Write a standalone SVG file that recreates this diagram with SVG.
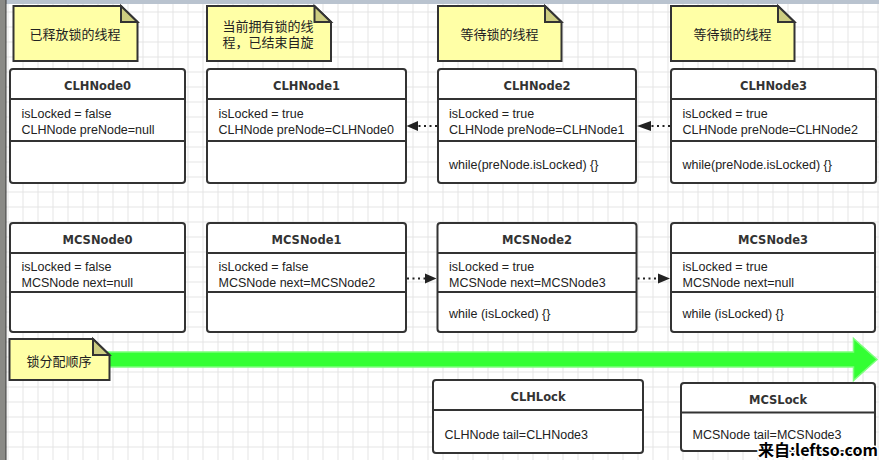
<svg xmlns="http://www.w3.org/2000/svg" width="879" height="460" viewBox="0 0 879 460">
<defs>
<pattern id="grid" x="7.5" y="11.5" width="15" height="15" patternUnits="userSpaceOnUse">
<path d="M0,0.5 H15 M0.5,0 V15" fill="none" stroke="#e4e4e4" stroke-width="1"/>
</pattern>
<marker id="ah" markerUnits="userSpaceOnUse" markerWidth="14" markerHeight="12" refX="12" refY="5" orient="auto">
<path d="M0,0 L12,5 L0,10 Z" fill="#222"/>
</marker>
<style>
.box{fill:#fff;stroke:#333;stroke-width:2}
.div{stroke:#333;stroke-width:2}
.note{fill:#ffffa6;stroke:#333;stroke-width:2}
.fold{fill:#cdcd80;stroke:#333;stroke-width:2;stroke-linejoin:miter}
.t{font-family:"Liberation Sans",Arial,sans-serif;font-size:12.5px;fill:#222}
.h{font-family:"DejaVu Sans","Liberation Sans",sans-serif;font-size:11.5px;font-weight:bold;fill:#333;text-anchor:middle}
.cn{font-family:"Liberation Sans","Noto Sans CJK SC",sans-serif;font-size:13px;fill:#222;text-anchor:middle}
.dot{stroke:#222;stroke-width:2;stroke-dasharray:2,3.5;fill:none}
</style>
</defs>
<rect width="879" height="460" fill="#fff"/>
<rect width="879" height="460" fill="url(#grid)"/>
<rect x="0" y="0" width="879" height="4" fill="#b9c3cf"/>
<rect x="0" y="0" width="6" height="460" fill="#8a8a86"/>
<line x1="6" y1="0" x2="6" y2="460" stroke="#3a3a3a" stroke-width="1"/>

<g id="note0">
<path class="note" d="M13.5,6 H121 L137.5,22 V61 H13.5 Z"/>
<path class="fold" d="M121,6 V22 H137.5 Z"/>
<text class="cn" x="75" y="38.5">已释放锁的线程</text>
</g>
<g id="note1">
<path class="note" d="M207,6 H314.5 L331,22 V61 H207 Z"/>
<path class="fold" d="M314.5,6 V22 H331 Z"/>
<text class="cn" x="268" y="30.5">当前拥有锁的线</text>
<text class="cn" x="268" y="47">程，已结束自旋</text>
</g>
<g id="note2">
<path class="note" d="M438,6 H545 L561.5,22 V61 H438 Z"/>
<path class="fold" d="M545,6 V22 H561.5 Z"/>
<text class="cn" x="499.5" y="38.5">等待锁的线程</text>
</g>
<g id="note3">
<path class="note" d="M671,6 H778 L794.5,22 V61 H671 Z"/>
<path class="fold" d="M778,6 V22 H794.5 Z"/>
<text class="cn" x="732.5" y="38.5">等待锁的线程</text>
</g>

<g id="CLHNode0">
<rect class="box" x="10" y="69" width="175" height="114" rx="3"/>
<line class="div" x1="10" y1="99" x2="185" y2="99"/>
<line class="div" x1="10" y1="141" x2="185" y2="141"/>
<text class="h" x="97.5" y="90">CLHNode0</text>
<text class="t" x="21.5" y="118">isLocked = false</text>
<text class="t" x="21.5" y="134">CLHNode preNode=null</text>
</g>
<g id="CLHNode1">
<rect class="box" x="207" y="69" width="199" height="114" rx="3"/>
<line class="div" x1="207" y1="99" x2="406" y2="99"/>
<line class="div" x1="207" y1="141" x2="406" y2="141"/>
<text class="h" x="306.5" y="90">CLHNode1</text>
<text class="t" x="218.5" y="118">isLocked = true</text>
<text class="t" x="218.5" y="134">CLHNode preNode=CLHNode0</text>
</g>
<g id="CLHNode2">
<rect class="box" x="438" y="69" width="198" height="114" rx="3"/>
<line class="div" x1="438" y1="99" x2="636" y2="99"/>
<line class="div" x1="438" y1="141" x2="636" y2="141"/>
<text class="h" x="537" y="90">CLHNode2</text>
<text class="t" x="449" y="118">isLocked = true</text>
<text class="t" x="449" y="134">CLHNode preNode=CLHNode1</text>
<text class="t" x="449" y="168.5">while(preNode.isLocked) {}</text>
</g>
<g id="CLHNode3">
<rect class="box" x="671" y="69" width="205" height="114" rx="3"/>
<line class="div" x1="671" y1="99" x2="876" y2="99"/>
<line class="div" x1="671" y1="141" x2="876" y2="141"/>
<text class="h" x="773.5" y="90">CLHNode3</text>
<text class="t" x="682.5" y="118">isLocked = true</text>
<text class="t" x="682.5" y="134">CLHNode preNode=CLHNode2</text>
<text class="t" x="682.5" y="168.5">while(preNode.isLocked) {}</text>
</g>

<g id="MCSNode0">
<rect class="box" x="10" y="223" width="175" height="109" rx="3"/>
<line class="div" x1="10" y1="253" x2="185" y2="253"/>
<line class="div" x1="10" y1="292" x2="185" y2="292"/>
<text class="h" x="97.5" y="243.5">MCSNode0</text>
<text class="t" x="21.5" y="270.5">isLocked = false</text>
<text class="t" x="21.5" y="286.5">MCSNode next=null</text>
</g>
<g id="MCSNode1">
<rect class="box" x="207" y="223" width="199" height="109" rx="3"/>
<line class="div" x1="207" y1="253" x2="406" y2="253"/>
<line class="div" x1="207" y1="292" x2="406" y2="292"/>
<text class="h" x="306.5" y="243.5">MCSNode1</text>
<text class="t" x="218.5" y="270.5">isLocked = false</text>
<text class="t" x="218.5" y="286.5">MCSNode next=MCSNode2</text>
</g>
<g id="MCSNode2">
<rect class="box" x="437.5" y="223" width="199" height="109" rx="3"/>
<line class="div" x1="437.5" y1="253" x2="636.5" y2="253"/>
<line class="div" x1="437.5" y1="292" x2="636.5" y2="292"/>
<text class="h" x="537" y="243.5">MCSNode2</text>
<text class="t" x="449" y="270.5">isLocked = true</text>
<text class="t" x="449" y="286.5">MCSNode next=MCSNode3</text>
<text class="t" x="449" y="318">while (isLocked) {}</text>
</g>
<g id="MCSNode3">
<rect class="box" x="671" y="223" width="204" height="109" rx="3"/>
<line class="div" x1="671" y1="253" x2="875" y2="253"/>
<line class="div" x1="671" y1="292" x2="875" y2="292"/>
<text class="h" x="773" y="243.5">MCSNode3</text>
<text class="t" x="682.5" y="270.5">isLocked = true</text>
<text class="t" x="682.5" y="286.5">MCSNode next=null</text>
<text class="t" x="682.5" y="318">while (isLocked) {}</text>
</g>

<g id="order-arrow">
<path d="M105,352 H853.5 V338.5 L877,359.5 L853.5,380.5 V367 H105 Z" fill="#33ff33" stroke="#7dff7d" stroke-width="1.5" stroke-linejoin="miter"/>
</g>
<g id="note4">
<path class="note" d="M9.5,339 H93 L109.5,355 V380 H9.5 Z"/>
<path class="fold" d="M93,339 V355 H109.5 Z"/>
<text class="cn" x="59" y="366">锁分配顺序</text>
</g>

<g id="CLHLock">
<rect class="box" x="433" y="380" width="210" height="73" rx="3"/>
<line class="div" x1="433" y1="410" x2="643" y2="410"/>
<text class="h" x="538" y="400.5">CLHLock</text>
<text class="t" x="444.5" y="438.5">CLHNode tail=CLHNode3</text>
</g>
<g id="MCSLock">
<rect class="box" x="681" y="383" width="194" height="68" rx="3"/>
<line class="div" x1="681" y1="412.5" x2="875" y2="412.5"/>
<text class="h" x="778" y="403.5">MCSLock</text>
<text class="t" x="692.5" y="438.5">MCSNode tail=MCSNode3</text>
</g>

<g id="connectors">
<path class="dot" d="M437,126 H418" />
<path d="M418,121 L406.5,126 L418,131 Z" fill="#222"/>
<path class="dot" d="M670,126 H651" />
<path d="M651,121 L637,126 L651,131 Z" fill="#222"/>
<path class="dot" d="M407,278.5 H426" />
<path d="M425,273.5 L436.5,278.5 L425,283.5 Z" fill="#222"/>
<path class="dot" d="M637.5,278.5 H657" />
<path d="M658,273.5 L670,278.5 L658,283.5 Z" fill="#222"/>
</g>

<text x="878" y="456" text-anchor="end" font-family="'Noto Sans CJK SC','Liberation Sans',sans-serif" font-size="16" font-weight="bold" fill="#000" stroke="#fff" stroke-width="3" paint-order="stroke">来自:leftso.com</text>
</svg>
